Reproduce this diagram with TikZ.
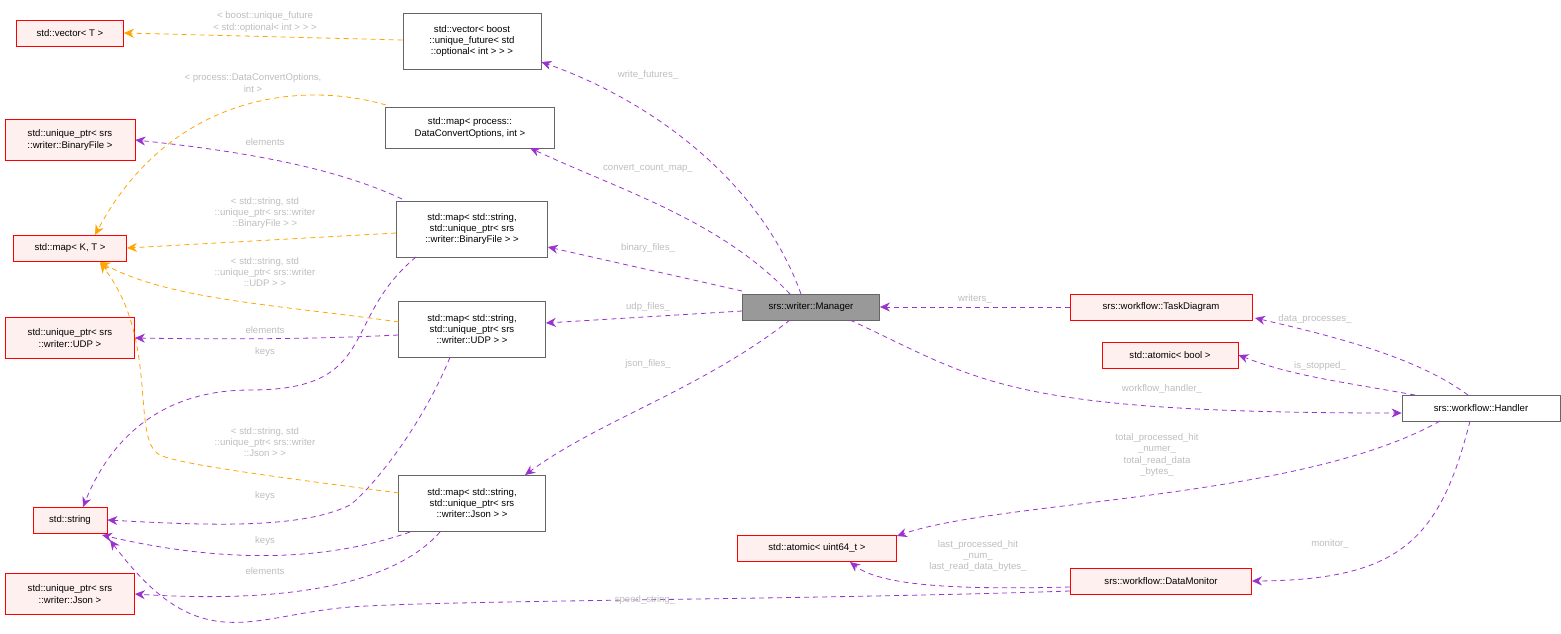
\documentclass[tikz,border=0pt]{standalone}
\usepackage{fontspec}
\setmainfont{Liberation Sans}
\usetikzlibrary{arrows.meta}
\definecolor{pu}{HTML}{9A32CD}
\definecolor{or}{HTML}{FFA500}
\definecolor{rb}{HTML}{FF0000}
\definecolor{rf}{HTML}{FFF0F0}
\definecolor{gb}{HTML}{666666}
\definecolor{lab}{HTML}{BDBDBD}
\begin{document}
\begin{tikzpicture}[x=1pt,y=-1pt,
  font=\fontsize{9.6}{11.4}\selectfont,
  box/.style={draw=gb,fill=white,inner sep=2pt,align=center,minimum height=26pt,line width=0.8pt},
  red/.style={box,draw=rb,fill=rf},
  m/.style={->,>={Stealth[length=10pt,width=9pt]},dash pattern=on 5pt off 4pt,line width=0.8pt},
  pe/.style={m,draw=pu,fill=none,>={Stealth[length=10pt,width=9pt,fill=pu]}},
  oe/.style={m,draw=or,>={Stealth[length=10pt,width=9pt,fill=or]}},
  lb/.style={text=lab,align=center,font=\fontsize{9.6}{11.4}\selectfont}]
\useasboundingbox (0,0) rectangle (1561,633);
\node[red,minimum width=107pt] (vt) at (70,33) {std::vector< T >};
\node[box,minimum width=138pt,minimum height=56pt] (vb) at (472,41) {std::vector< boost\\::unique\_future< std\\::optional< int > > >};
\node[box,minimum width=169pt,minimum height=41pt] (dco) at (470,128) {std::map< process::\\DataConvertOptions, int >};
\node[red,minimum width=130pt,minimum height=41pt] (ub) at (70,140) {std::unique\_ptr< srs\\::writer::BinaryFile >};
\node[red,minimum width=113pt] (kt) at (70,248) {std::map< K, T >};
\node[box,minimum width=151pt,minimum height=56pt] (mb) at (472,229) {std::map< std::string,\\std::unique\_ptr< srs\\::writer::BinaryFile > >};
\node[red,minimum width=129pt,minimum height=41pt] (uu) at (70,338) {std::unique\_ptr< srs\\::writer::UDP >};
\node[box,minimum width=147pt,minimum height=56pt] (mu) at (472,329) {std::map< std::string,\\std::unique\_ptr< srs\\::writer::UDP > >};
\node[red,minimum width=74pt] (st) at (70,520) {std::string};
\node[box,minimum width=147pt,minimum height=56pt] (mj) at (472,503) {std::map< std::string,\\std::unique\_ptr< srs\\::writer::Json > >};
\node[red,minimum width=129pt,minimum height=41pt] (uj) at (70,594) {std::unique\_ptr< srs\\::writer::Json >};
\node[box,fill=black!40,minimum width=137pt] (mg) at (811,307) {srs::writer::Manager};
\node[red,minimum width=182pt] (td) at (1161,307) {srs::workflow::TaskDiagram};
\node[red,minimum width=136pt] (ab) at (1170,355) {std::atomic< bool >};
\node[box,minimum width=158pt] (hd) at (1481,408) {srs::workflow::Handler};
\node[red,minimum width=159pt] (au) at (817,548) {std::atomic< uint64\_t >};
\node[red,minimum width=181pt] (dm) at (1161,581) {srs::workflow::DataMonitor};

% orange
\draw[oe] (vb.west|-0,40) -- (vt.east);
\node[lb] at (265,22) {< boost::unique\_future\\< std::optional< int > > >};
\draw[oe] (386,105) .. controls (300,80) and (170,95) .. (95,235);
\node[lb] at (253,83) {< process::DataConvertOptions,\\int >};
\draw[oe] (mb.west|-0,233) -- (kt.east);
\node[lb] at (265,213) {< std::string, std\\::unique\_ptr< srs::writer\\::BinaryFile > >};
\draw[oe] (399,322) .. controls (280,305) and (170,300) .. (100,262);
\node[lb] at (265,272) {< std::string, std\\::unique\_ptr< srs::writer\\::UDP > >};
\draw[oe] (399,493) .. controls (300,480) and (180,465) .. (160,455) .. controls (130,440) and (160,340) .. (100,263);
\node[lb] at (265,442) {< std::string, std\\::unique\_ptr< srs::writer\\::Json > >};

% purple left
\draw[pe] (402,199) .. controls (330,165) and (230,150) .. (ub.east);
\node[lb] at (265,142) {elements};
\draw[pe] (mu.west|-0,335) .. controls (300,340) and (200,339) .. (uu.east);
\node[lb] at (265,330) {elements};
\node[lb] at (265,352) {keys};
\draw[pe] (416,257) .. controls (340,320) and (380,390) .. (250,390) .. controls (160,390) and (110,440) .. (83,507);
\draw[pe] (mu.south-|450,0) .. controls (420,430) and (370,490) .. (350,505) .. controls (300,530) and (200,525) .. (st.east);
\node[lb] at (265,496) {keys};
\draw[pe] (410,532) .. controls (330,560) and (230,565) .. (102,535);
\node[lb] at (265,541) {keys};
\draw[pe] (440,532) .. controls (380,600) and (230,600) .. (uj.east);
\node[lb] at (265,571) {elements};
\draw[pe] (dm.west|-0,591) .. controls (800,600) and (450,600) .. (350,607) .. controls (250,615) and (200,660) .. (110,540);
\node[lb] at (645,600) {speed\_string\_};

% manager
\draw[pe] (801,294) .. controls (760,180) and (650,100) .. (vb.east|-0,62);
\node[lb] at (648,75) {write\_futures\_};
\draw[pe] (790,294) .. controls (720,220) and (620,190) .. (530,148);
\node[lb] at (648,168) {convert\_count\_map\_};
\draw[pe] (mg.west|-0,291) -- (mb.east|-0,247);
\node[lb] at (648,248) {binary\_files\_};
\draw[pe] (mg.west|-0,311) -- (mu.east|-0,323);
\node[lb] at (648,307) {udp\_files\_};
\draw[pe] (790,320) .. controls (700,390) and (600,420) .. (525,475);
\node[lb] at (648,364) {json\_files\_};
\draw[pe] (td.west) -- (mg.east);
\node[lb] at (975,299) {writers\_};
\draw[pe] (850,320) .. controls (980,380) and (1000,413) .. (hd.west|-0,413);
\node[lb] at (1162,389) {workflow\_handler\_};
\draw[pe] (1468,395) .. controls (1420,360) and (1350,340) .. (1255,318);
\node[lb] at (1315,319) {data\_processes\_};
\draw[pe] (1415,395) .. controls (1330,380) and (1290,375) .. (ab.east);
\node[lb] at (1320,366) {is\_stopped\_};
\draw[pe] (1440,421) .. controls (1300,500) and (1000,500) .. (au.east|-0,536);
\node[lb] at (1157,455) {total\_processed\_hit\\\_numer\_\\total\_read\_data\\\_bytes\_};
\draw[pe] (1470,421) .. controls (1440,540) and (1400,580) .. (dm.east);
\node[lb] at (1330,544) {monitor\_};
\draw[pe] (dm.west|-0,587) .. controls (950,590) and (880,585) .. (850,562);
\node[lb] at (978,556) {last\_processed\_hit\\\_num\_\\last\_read\_data\_bytes\_};
\end{tikzpicture}
\end{document}
